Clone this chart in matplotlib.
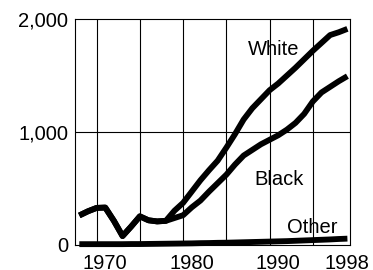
import matplotlib
matplotlib.use("Agg")
import matplotlib.pyplot as plt

years = list(range(1967, 1999))
white = [258, 295, 325, 328, 210, 75, 160, 250, 215, 205, 210, 300,
         370, 470, 570, 660, 745, 860, 980, 1110, 1210, 1290, 1370, 1430,
         1500, 1570, 1645, 1720, 1790, 1860, 1885, 1915]
black = [258, 295, 325, 328, 210, 75, 160, 250, 215, 205, 210, 235,
         260, 330, 390, 470, 545, 620, 710, 790, 840, 890, 930, 970,
         1020, 1080, 1160, 1270, 1350, 1400, 1450, 1495]
other = [3, 3, 3, 3, 3, 3, 4, 4, 5, 6, 7, 8,
         9, 10, 12, 13, 15, 16, 18, 20, 22, 24, 26, 28,
         30, 33, 36, 39, 42, 45, 49, 52]

plt.rcParams['font.family'] = ['Liberation Sans', 'DejaVu Sans']

fig = plt.figure(figsize=(3.73, 2.70), dpi=100)
ax = fig.add_axes([75/373, 1-244.5/270, 275/373, 225.2/270])

for s in [white, black, other]:
    ax.plot(years, s, color="black", linewidth=4.2, solid_capstyle="butt",
            solid_joinstyle="round", clip_on=False, zorder=3)

ax.set_xlim(1966.5, 1998.3)
ax.set_ylim(0, 2000)

# grid lines are not on the labelled years
for gx in [1969, 1974, 1979, 1984, 1989, 1994]:
    ax.axvline(gx, color="black", linewidth=0.8, zorder=1)
ax.axhline(1000, color="black", linewidth=0.8, zorder=1)

ax.set_yticks([0, 1000, 2000])
ax.set_yticklabels(["0", "1,000", "2,000"])
ax.set_xticks([1970, 1980, 1990, 1998])
ax.set_xticklabels(["1970", "1980", "1990", "1998"])
ax.tick_params(length=0, labelsize=14.5)
ax.tick_params(axis='y', pad=5)
ax.tick_params(axis='x', pad=7)

for sp in ax.spines.values():
    sp.set_linewidth(0.8)
    sp.set_color("black")

ax.text(1989.5, 1684, "White", fontsize=14.5, ha='center', va='baseline')
ax.text(1990.1, 529, "Black", fontsize=14.5, ha='center', va='baseline')
ax.text(1993.9, 100, "Other", fontsize=14.5, ha='center', va='baseline')

fig.savefig("out.png", dpi=100)
